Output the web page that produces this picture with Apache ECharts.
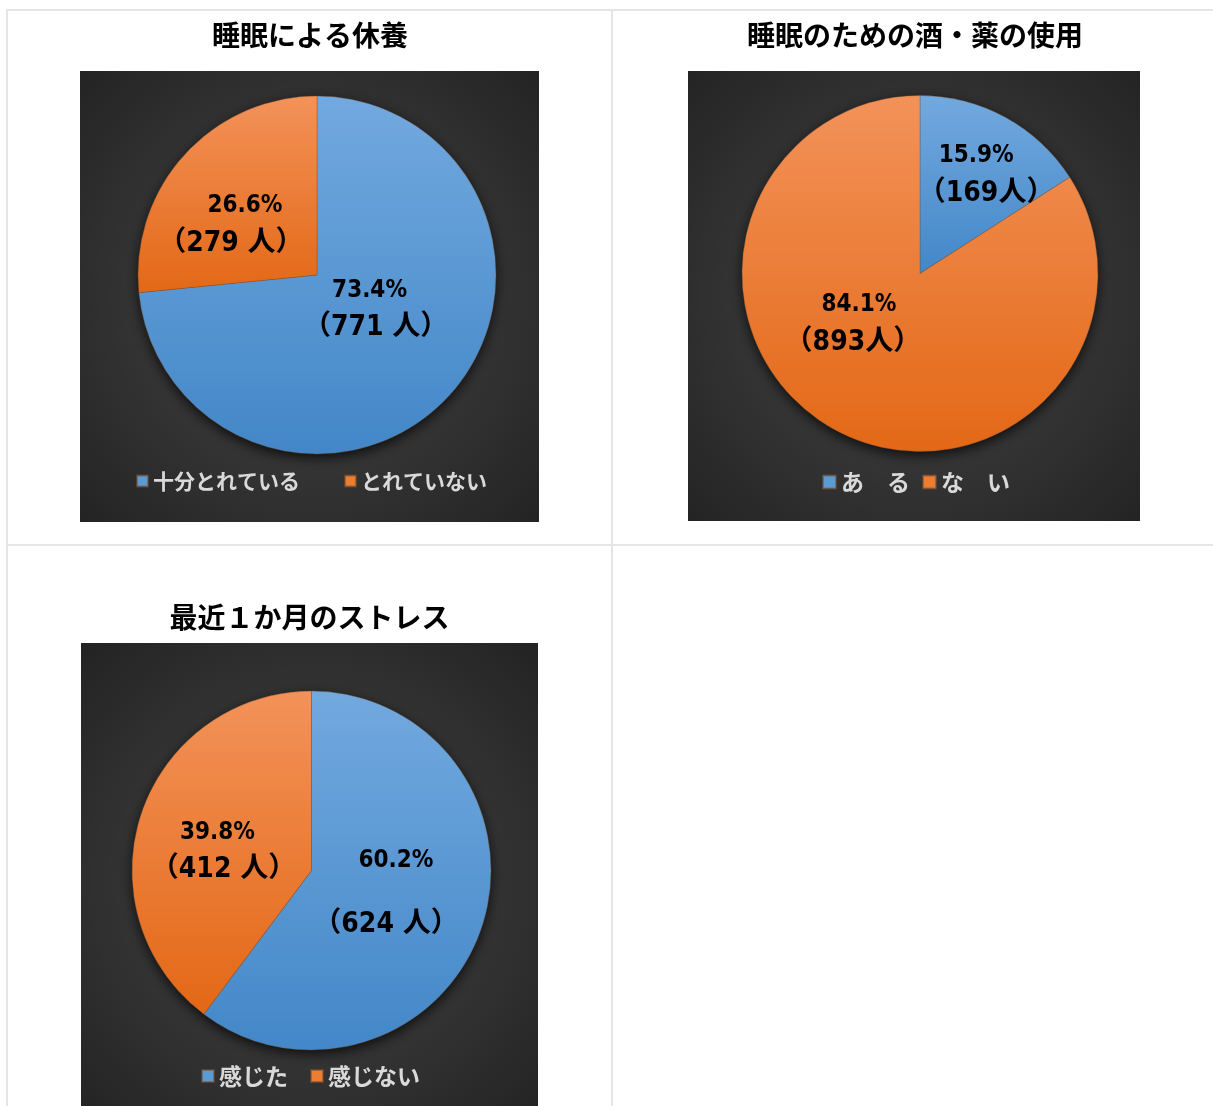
<!DOCTYPE html>
<html>
<head>
<meta charset="utf-8">
<script src="https://cdn.jsdelivr.net/npm/echarts@6/dist/echarts.min.js"></script>
<style>
  html, body { margin: 0; padding: 0; background: #fff; }
  #main { width: 1213px; height: 1106px; }
</style>
</head>
<body>
<div id="main"></div>
<script>
// ---- data ----
const titles = ['睡眠による休養', '睡眠のための酒・薬の使用', '最近１か月のストレス'];
const categoriesRest = ['十分とれている', 'とれていない'];
const countsRest = [771, 279];
const categoriesAid = ['あ　る', 'な　い'];
const countsAid = [169, 893];
const categoriesStress = ['感じた', '感じない'];
const countsStress = [624, 412];
const personUnit = '人';

// ---- layout / style (not data) ----
const panels = [
  { x: 80, y: 71, w: 459, h: 451, cx: 317, cy: 275, r: 179, titleX: 310, titleY: 35,
    legendLeft: 136, legendY: 481, legendFont: 21, legendIcon: 11, legendGap: 44, unitSep: ' ',
    offsets: [[-10, -27], [-17.5, 12.5]], pctShift: [-6, 14], gapLine: [0, 0] },
  { x: 688, y: 71, w: 452, h: 450, cx: 920, cy: 273.5, r: 178, titleX: 915, titleY: 35,
    legendLeft: 822, legendY: 482, legendFont: 23, legendIcon: 13, legendGap: 12, unitSep: '',
    offsets: [[22, -17], [-23, -30]], pctShift: [-10, 6], gapLine: [0, 0] },
  { x: 81, y: 643, w: 457, h: 480, cx: 311.5, cy: 870.5, r: 179.5, titleX: 309.5, titleY: 617,
    legendLeft: 201, legendY: 1076, legendFont: 23, legendIcon: 12, legendGap: 22, unitSep: ' ',
    offsets: [[-13.5, -6.5], [0, 11]], pctShift: [10, -6], gapLine: [26, 0] }
];
const dataSets = [
  { cats: categoriesRest, vals: countsRest },
  { cats: categoriesAid, vals: countsAid },
  { cats: categoriesStress, vals: countsStress }
];
const blueFill = { type: 'linear', x: 0, y: 0, x2: 0, y2: 1,
  colorStops: [{ offset: 0, color: '#72a9df' }, { offset: 1, color: '#4387c8' }] };
const orangeFill = { type: 'linear', x: 0, y: 0, x2: 0, y2: 1,
  colorStops: [{ offset: 0, color: '#f39259' }, { offset: 1, color: '#e36816' }] };
const sliceFills = [blueFill, orangeFill];
const legendSwatch = ['#5b9bd5', '#ed7d31'];
const labelFont = '"DejaVu Sans Condensed", "DejaVu Sans", "Noto Sans CJK JP", sans-serif';
const cjkFont = '"Noto Sans CJK JP", sans-serif';

const graphics = [];
// table lines
const lineColor = '#e5e5e5';
graphics.push({ type: 'rect', z: 0, shape: { x: 6, y: 9, width: 1207, height: 2 }, style: { fill: lineColor } });
graphics.push({ type: 'rect', z: 0, shape: { x: 6, y: 9, width: 2, height: 1097 }, style: { fill: lineColor } });
graphics.push({ type: 'rect', z: 0, shape: { x: 611, y: 9, width: 2, height: 1097 }, style: { fill: lineColor } });
graphics.push({ type: 'rect', z: 0, shape: { x: 6, y: 544, width: 1207, height: 2 }, style: { fill: lineColor } });

panels.forEach(p => {
  graphics.push({ type: 'rect', z: 0, shape: { x: p.x, y: p.y, width: p.w, height: p.h },
    style: { fill: { type: 'radial', x: 0.5, y: 0.5, r: 0.72,
      colorStops: [{ offset: 0, color: '#474747' }, { offset: 1, color: '#232323' }] } } });
  graphics.push({ type: 'circle', z: 1, shape: { cx: p.cx, cy: p.cy, r: p.r - 1 },
    style: { fill: '#222', shadowBlur: 14, shadowColor: 'rgba(0,0,0,0.85)', shadowOffsetY: 4 } });
});

function pctPadding(s) {
  return s >= 0 ? [0, 0, 0, 2 * s] : [0, -2 * s, 0, 0];
}

const series = panels.map((p, i) => ({
  type: 'pie',
  z: 3,
  center: [p.cx, p.cy],
  radius: p.r,
  startAngle: 90,
  clockwise: true,
  percentPrecision: 1,
  avoidLabelOverlap: false,
  legendHoverLink: false,
  emphasis: { disabled: true },
  itemStyle: { borderWidth: 0.6, borderColor: 'rgba(120,80,50,0.6)' },
  data: dataSets[i].vals.map((v, j) => ({
    name: dataSets[i].cats[j], value: v, itemStyle: { color: sliceFills[j] },
    label: {
      rich: {
        p: { fontSize: 24, fontWeight: 'bold condensed', fontFamily: labelFont, color: '#000',
             lineHeight: 36, padding: pctPadding(p.pctShift[j]) },
        n: { fontSize: 28, fontWeight: 'bold condensed', fontFamily: labelFont, color: '#000', lineHeight: 39 },
        g: { fontSize: 10, lineHeight: 27 }
      }
    }
  })),
  label: {
    show: true,
    position: 'inside',
    color: '#000',
    formatter: params => {
      const gap = p.gapLine[params.dataIndex] ? '\n{g|}' : '';
      return '{p|' + params.percent.toFixed(1) + '%}' + gap + '\n{n|（' + params.value + p.unitSep + personUnit + '）}';
    }
  },
  labelLine: { show: false },
  labelLayout: params => ({ dx: p.offsets[params.dataIndex][0], dy: p.offsets[params.dataIndex][1] })
}));

const legends = panels.map((p, i) => ({
  data: dataSets[i].cats.map((c, j) => ({ name: c, itemStyle: { color: legendSwatch[j] } })),
  orient: 'horizontal',
  left: p.legendLeft,
  top: p.legendY - 14,
  padding: 0,
  icon: 'rect',
  itemWidth: p.legendIcon,
  itemHeight: p.legendIcon,
  itemGap: p.legendGap,
  selectedMode: false,
  textStyle: { color: '#d9d9d9', fontSize: p.legendFont, fontWeight: 'bold', fontFamily: cjkFont, lineHeight: 28 }
}));

const titleComps = panels.map((p, i) => ({
  text: titles[i],
  left: p.titleX,
  top: p.titleY - 15,
  textAlign: 'center',
  padding: 0,
  textStyle: { color: '#000', fontSize: 28, fontWeight: 'bold', fontFamily: cjkFont, lineHeight: 30 }
}));

const chart = echarts.init(document.getElementById('main'), null, { renderer: 'canvas' });
chart.setOption({
  animation: false,
  backgroundColor: '#fff',
  title: titleComps,
  legend: legends,
  graphic: { elements: graphics },
  series: series
});
</script>
</body>
</html>
